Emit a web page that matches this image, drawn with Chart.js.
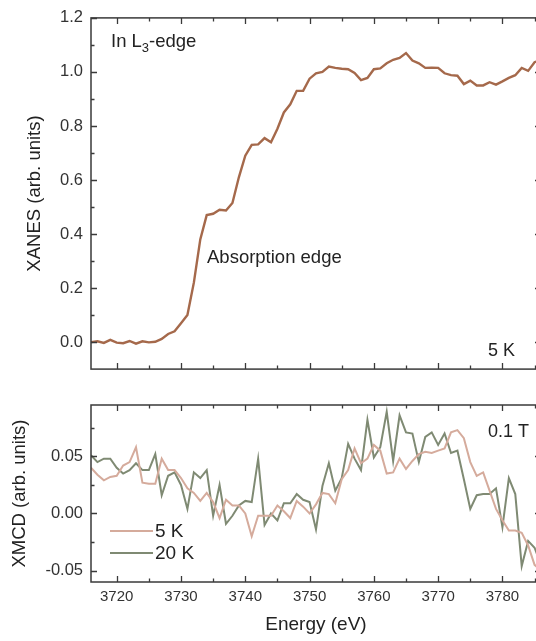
<!DOCTYPE html>
<html>
<head>
<meta charset="utf-8">
<script src="https://cdn.jsdelivr.net/npm/chart.js@4"></script>
<style>
  html, body { margin: 0; padding: 0; background: #fff; overflow: hidden; }
  #wrap { position: relative; width: 536px; height: 641px; overflow: hidden; }
  #xanes { position: absolute; left: 0; top: 0; }
  #xmcd { position: absolute; left: 0; top: 385px; }
</style>
</head>
<body>
<div id="wrap">
  <canvas id="xanes" width="545" height="387"></canvas>
  <canvas id="xmcd" width="545" height="256"></canvas>
</div>
<script>
// Photon energy (eV)
const energy = [
  3716, 3717, 3718, 3719, 3720, 3721, 3722, 3723, 3724, 3725,
  3726, 3727, 3728, 3729, 3730, 3731, 3732, 3733, 3734, 3735,
  3736, 3737, 3738, 3739, 3740, 3741, 3742, 3743, 3744, 3745,
  3746, 3747, 3748, 3749, 3750, 3751, 3752, 3753, 3754, 3755,
  3756, 3757, 3758, 3759, 3760, 3761, 3762, 3763, 3764, 3765,
  3766, 3767, 3768, 3769, 3770, 3771, 3772, 3773, 3774, 3775,
  3776, 3777, 3778, 3779, 3780, 3781, 3782, 3783, 3784, 3785,
  3786
];

// XANES, In L3-edge, 5 K
const xanes5K = [
  0.000, 0.003, -0.003, 0.008, -0.002, -0.004, 0.004, -0.006, 0.003, -0.001,
  0.001, 0.012, 0.030, 0.040, 0.070, 0.100, 0.220, 0.380, 0.470, 0.475,
  0.490, 0.487, 0.515, 0.610, 0.690, 0.730, 0.732, 0.755, 0.740, 0.790,
  0.850, 0.880, 0.930, 0.930, 0.975, 0.995, 1.000, 1.020, 1.015, 1.012,
  1.010, 0.996, 0.970, 0.978, 1.010, 1.013, 1.032, 1.045, 1.052, 1.070,
  1.042, 1.032, 1.015, 1.016, 1.015, 0.995, 0.988, 0.986, 0.955, 0.968,
  0.950, 0.950, 0.962, 0.953, 0.965, 0.978, 0.988, 1.015, 1.004, 1.036,
  1.045
];

// XMCD at 0.1 T
const xmcd5K = [
  0.040, 0.034, 0.029, 0.032, 0.033, 0.042, 0.045, 0.058, 0.027, 0.026,
  0.026, 0.048, 0.038, 0.038, 0.031, 0.022, 0.018, 0.011, 0.018, 0.010,
  -0.004, 0.012, 0.007, 0.007, 0.000, -0.020, -0.002, -0.002, -0.002, 0.007,
  0.002, -0.004, 0.011, 0.006, 0.000, 0.008, 0.018, 0.017, 0.009, 0.030,
  0.038, 0.057, 0.044, 0.048, 0.060, 0.055, 0.035, 0.036, 0.048, 0.039,
  0.046, 0.052, 0.054, 0.053, 0.055, 0.057, 0.071, 0.073, 0.066, 0.045,
  0.033, 0.036, 0.020, 0.004, -0.006, -0.015, -0.015, -0.017, -0.028, -0.045,
  -0.050
];
const xmcd20K = [
  0.051, 0.045, 0.048, 0.048, 0.040, 0.035, 0.038, 0.044, 0.038, 0.038,
  0.052, 0.016, 0.033, 0.036, 0.025, 0.004, 0.036, 0.031, 0.038, -0.002,
  0.025, -0.009, -0.002, 0.007, 0.011, 0.010, 0.048, -0.010, 0.000, -0.006,
  0.009, 0.009, 0.017, 0.012, 0.010, -0.014, 0.024, 0.044, 0.020, 0.031,
  0.061, 0.048, 0.038, 0.082, 0.049, 0.058, 0.089, 0.046, 0.086, 0.071,
  0.070, 0.045, 0.067, 0.071, 0.060, 0.070, 0.053, 0.055, 0.030, 0.004,
  0.016, 0.017, 0.017, 0.022, -0.012, 0.031, 0.017, -0.046, -0.024, -0.030,
  -0.045
];

// ticks
const xTicks = [3720, 3730, 3740, 3750, 3760, 3770, 3780];
const xMinor = [3725, 3735, 3745, 3755, 3765, 3775, 3785];
const xanesTicks = [0.0, 0.2, 0.4, 0.6, 0.8, 1.0, 1.2];
const xanesMinor = [0.1, 0.3, 0.5, 0.7, 0.9, 1.1];
const xmcdTicks = [-0.05, 0.00, 0.05];
const xmcdMinor = [-0.025, 0.025, 0.075];

const FONT = '"Liberation Sans", Arial, sans-serif';
const AXIS = '#3a3a3a';
const TEXT = '#222';

const pts = (vals) => energy.map((e, i) => ({ x: e, y: vals[i] }));

// Box frame with inward ticks on all four sides
const frameTicks = {
  id: 'frameTicks',
  afterDraw(chart, args, opts) {
    const { ctx, chartArea: a } = chart;
    const x = chart.scales.x, y = chart.scales.y;
    ctx.save();
    ctx.strokeStyle = AXIS;
    ctx.lineWidth = 1.5;
    ctx.strokeRect(a.left, a.top, a.right - a.left, a.bottom - a.top);
    ctx.lineWidth = 1.3;
    ctx.beginPath();
    const vt = (vals, len) => vals.forEach(v => {
      const p = Math.round(x.getPixelForValue(v)) + 0.5;
      ctx.moveTo(p, a.bottom); ctx.lineTo(p, a.bottom - len);
      ctx.moveTo(p, a.top); ctx.lineTo(p, a.top + len);
    });
    const ht = (vals, len) => vals.forEach(v => {
      const p = Math.round(y.getPixelForValue(v)) + 0.5;
      ctx.moveTo(a.left, p); ctx.lineTo(a.left + len, p);
      ctx.moveTo(a.right, p); ctx.lineTo(a.right - len, p);
    });
    vt(opts.xMajor, 6); vt(opts.xMinor, 3.5);
    ht(opts.yMajor, 6); ht(opts.yMinor, 3.5);
    ctx.stroke();
    ctx.restore();
  }
};

// free text labels inside the panels
const notes = {
  id: 'notes',
  afterDraw(chart, args, opts) {
    const ctx = chart.ctx;
    ctx.save();
    ctx.fillStyle = TEXT;
    ctx.textBaseline = 'alphabetic';
    (opts.items || []).forEach(it => {
      ctx.font = (it.size || 18) + 'px ' + FONT;
      let cx = it.x;
      if (it.sub) {
        ctx.fillText(it.text, cx, it.y);
        cx += ctx.measureText(it.text).width;
        ctx.font = '13px ' + FONT;
        ctx.fillText(it.sub, cx, it.y + 5);
        cx += ctx.measureText(it.sub).width;
        ctx.font = (it.size || 18) + 'px ' + FONT;
        ctx.fillText(it.after, cx, it.y);
      } else {
        ctx.fillText(it.text, cx, it.y);
      }
    });
    // legend
    (opts.legend || []).forEach(l => {
      ctx.strokeStyle = l.color;
      ctx.lineWidth = 2;
      ctx.beginPath();
      ctx.moveTo(l.x, l.y); ctx.lineTo(l.x + 43, l.y);
      ctx.stroke();
      ctx.font = '19px ' + FONT;
      ctx.textBaseline = 'middle';
      ctx.fillText(l.text, l.x + 45, l.y + 1);
    });
    ctx.restore();
  }
};

const yScale = (min, max, ticks, digits, titleText, titlePad) => ({
  type: 'linear',
  min: min,
  max: max,
  afterBuildTicks: s => { s.ticks = ticks.map(v => ({ value: v })); },
  afterFit: s => { s.width = 91; },
  grid: { display: false, drawTicks: false },
  border: { display: false },
  ticks: {
    padding: 8,
    color: '#333',
    font: { family: FONT, size: 16.5 },
    callback: v => v.toFixed(digits)
  },
  title: {
    display: true,
    text: titleText,
    color: TEXT,
    font: { family: FONT, size: 18.5 },
    padding: { top: titlePad, bottom: 0 }
  }
});

const xanesChart = new Chart(document.getElementById('xanes'), {
  type: 'line',
  data: {
    datasets: [{
      label: '5 K',
      data: pts(xanes5K),
      borderColor: '#a5694b',
      borderWidth: 2.4,
      pointRadius: 0,
      tension: 0
    }]
  },
  options: {
    responsive: false,
    animation: false,
    layout: { padding: { top: 12, right: 4, bottom: 12, left: 0 } },
    plugins: {
      legend: { display: false },
      tooltip: { enabled: false },
      frameTicks: { xMajor: xTicks, xMinor: xMinor, yMajor: xanesTicks, yMinor: xanesMinor },
      notes: {
        items: [
          { text: 'In L', sub: '3', after: '-edge', x: 111, y: 47, size: 18.5 },
          { text: 'Absorption edge', x: 207, y: 263, size: 18.5 },
          { text: '5 K', x: 488, y: 356, size: 18 }
        ]
      }
    },
    scales: {
      x: { type: 'linear', min: 3716, max: 3786, display: false },
      y: yScale(-0.1, 1.2, xanesTicks, 1, 'XANES (arb. units)', 24)
    }
  },
  plugins: [frameTicks, notes]
});

const xmcdChart = new Chart(document.getElementById('xmcd'), {
  type: 'line',
  data: {
    datasets: [{
      label: '5 K',
      data: pts(xmcd5K),
      borderColor: '#d5ab9c',
      borderWidth: 2,
      pointRadius: 0,
      tension: 0
    }, {
      label: '20 K',
      data: pts(xmcd20K),
      borderColor: '#7f8a73',
      borderWidth: 2,
      pointRadius: 0,
      tension: 0
    }]
  },
  options: {
    responsive: false,
    animation: false,
    layout: { padding: { top: 20, right: 4, bottom: 0, left: 0 } },
    plugins: {
      legend: { display: false },
      tooltip: { enabled: false },
      frameTicks: { xMajor: xTicks, xMinor: xMinor, yMajor: xmcdTicks, yMinor: xmcdMinor },
      notes: {
        items: [
          { text: '0.1 T', x: 488, y: 52, size: 18 }
        ],
        legend: [
          { text: '5 K', color: '#d5ab9c', x: 110, y: 146 },
          { text: '20 K', color: '#7f8a73', x: 110, y: 168 }
        ]
      }
    },
    scales: {
      x: {
        type: 'linear',
        min: 3716,
        max: 3786,
        afterBuildTicks: s => { s.ticks = xTicks.map(v => ({ value: v })); },
        afterFit: s => { s.height = 59; },
        grid: { display: false, drawTicks: false },
        border: { display: false },
        ticks: {
          padding: 6,
          color: '#333',
          maxRotation: 0,
          font: { family: FONT, size: 15 },
          callback: v => String(v)
        },
        title: {
          display: true,
          text: 'Energy (eV)',
          color: TEXT,
          font: { family: FONT, size: 19 },
          padding: { top: 0, bottom: 5 }
        }
      },
      y: yScale(-0.06, 0.095, xmcdTicks, 2, 'XMCD (arb. units)', 9)
    }
  },
  plugins: [frameTicks, notes]
});
</script>
</body>
</html>
